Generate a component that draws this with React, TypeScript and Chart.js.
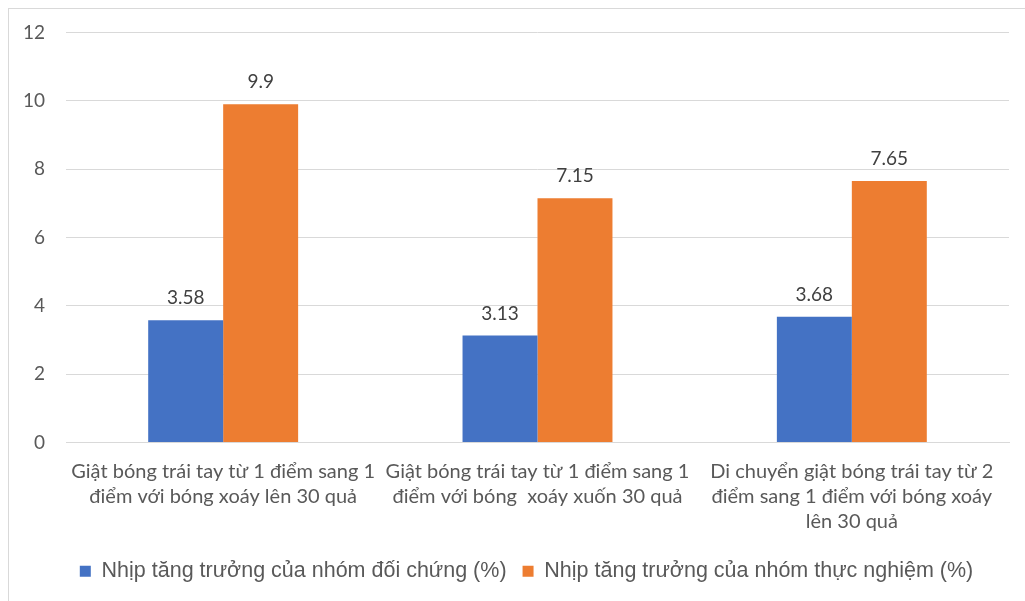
import React, { useEffect, useRef } from "react";
import { Chart, registerables } from "chart.js";

Chart.register(...registerables);

const categories: string[][] = [
  ["Giật bóng trái tay từ 1 điểm sang 1", "điểm với bóng xoáy lên 30 quả"],
  ["Giật bóng trái tay từ 1 điểm sang 1", "điểm với bóng  xoáy xuốn 30 quả"],
  ["Di chuyển giật bóng trái tay từ 2", "điểm sang 1 điểm với bóng xoáy", "lên 30 quả"],
];
const controlValues = [3.58, 3.13, 3.68];
const experimentValues = [9.9, 7.15, 7.65];
const seriesNames = [
  "Nhịp tăng trưởng của nhóm đối chứng (%)",
  "Nhịp tăng trưởng của nhóm thực nghiệm (%)",
];
const yTicks = [0, 2, 4, 6, 8, 10, 12];

const borderPlugin = {
  id: "frameBorder",
  beforeDraw(chart: any) {
    const ctx = chart.ctx;
    ctx.save();
    ctx.fillStyle = "#ffffff";
    ctx.fillRect(0, 0, chart.width, chart.height);
    ctx.strokeStyle = "#D9D9D9";
    ctx.lineWidth = 1;
    ctx.strokeRect(8.5, 8.5, chart.width + 50, chart.height + 50);
    ctx.restore();
  },
};

const legendShiftPlugin = {
  id: "legendShift",
  afterLayout(chart: any) {
    const lg = chart.legend;
    if (lg) {
      lg.left += 22;
      lg.right += 22;
    }
  },
};

const labelPlugin = {
  id: "valueLabels",
  afterDatasetsDraw(chart: any) {
    const ctx = chart.ctx;
    ctx.save();
    ctx.font = "19px Lato, 'Open Sans', sans-serif";
    ctx.fillStyle = "#404040";
    ctx.textAlign = "center";
    ctx.textBaseline = "middle";
    chart.data.datasets.forEach((ds: any, i: number) => {
      const meta = chart.getDatasetMeta(i);
      meta.data.forEach((bar: any, j: number) => {
        ctx.fillText(String(ds.data[j]), bar.x, bar.y - 22);
      });
    });
    ctx.restore();
  },
};

export default function App() {
  const ref = useRef<HTMLCanvasElement | null>(null);
  useEffect(() => {
    if (!ref.current) return;
    const chart = new Chart(ref.current, {
      type: "bar",
      data: {
        labels: categories,
        datasets: [
          {
            label: seriesNames[0],
            data: controlValues,
            backgroundColor: "#4472C4",
            categoryPercentage: 0.477,
            barPercentage: 1,
          },
          {
            label: seriesNames[1],
            data: experimentValues,
            backgroundColor: "#ED7D31",
            categoryPercentage: 0.477,
            barPercentage: 1,
          },
        ],
      },
      options: {
        responsive: false,
        animation: false,
        devicePixelRatio: 1,
        layout: { padding: { left: 0, right: 16, top: 29, bottom: 9 } },
        plugins: {
          tooltip: { enabled: false },
          legend: {
            position: "bottom",
            labels: {
              boxWidth: 11,
              boxHeight: 11,
              padding: 16,
              color: "#595959",
              font: { family: "'Liberation Sans', Arial, sans-serif", size: 21.5 },
            },
          },
        },
        scales: {
          x: {
            grid: { display: false, drawTicks: false },
            border: { display: true, color: "#D9D9D9" },
            ticks: {
              color: "#595959",
              font: { family: "Lato, 'Open Sans', sans-serif", size: 20, lineHeight: 1.25 },
              padding: 17,
              maxRotation: 0,
              autoSkip: false,
            },
            afterFit(scale: any) {
              scale.height = 102;
            },
          },
          y: {
            min: 0,
            max: 12,
            afterBuildTicks(scale: any) {
              scale.ticks = yTicks.map((v) => ({ value: v }));
            },
            grid: { color: "#D9D9D9", drawTicks: false },
            border: { display: false },
            ticks: {
              color: "#595959",
              font: { family: "Lato, 'Open Sans', sans-serif", size: 19 },
              padding: 21,
            },
            afterFit(scale: any) {
              scale.width = 66;
            },
          },
        },
      },
      plugins: [borderPlugin, legendShiftPlugin, labelPlugin],
    } as any);
    return () => chart.destroy();
  }, []);
  return (
    <canvas
      ref={ref}
      width={1025}
      height={601}
      style={{ position: "absolute", left: 0, top: 0, display: "block" }}
    />
  );
}
